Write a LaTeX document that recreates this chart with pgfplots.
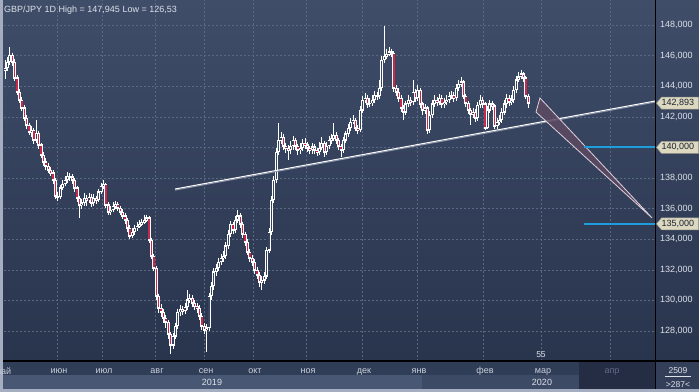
\documentclass[border=0pt]{standalone}
\usepackage{fontspec}
\setmainfont{Liberation Sans}
\usepackage{pgfplots}
\pgfplotsset{compat=1.18}
\usepackage{pgfplotstable}
\definecolor{bgtop}{HTML}{3F4D69}
\definecolor{bgbot}{HTML}{29344D}
\definecolor{framec}{HTML}{A4AEC0}
\definecolor{gridc}{HTML}{5A6883}
\definecolor{monthrow}{HTML}{303D57}
\definecolor{yearA}{HTML}{485773}
\definecolor{yearB}{HTML}{3D4A65}
\definecolor{aprbox}{HTML}{242D43}
\definecolor{rbox}{HTML}{333F59}
\definecolor{tickc}{HTML}{DDE2EA}
\definecolor{monthc}{HTML}{C9D0DC}
\definecolor{aprc}{HTML}{5F6B84}
\definecolor{candred}{HTML}{C8284A}
\definecolor{hollowc}{HTML}{37445F}
\definecolor{trifill}{HTML}{5D4A62}
\definecolor{triedge}{HTML}{E0D0DC}
\definecolor{lvlblue}{HTML}{1D9DDC}
\definecolor{tagfill}{HTML}{DCD9C0}
\definecolor{tagedge}{HTML}{9A9A8A}
\definecolor{tagtext}{HTML}{1C2230}
\definecolor{shadowc}{HTML}{8C97AC}

\pgfplotstableread{
i o h l c
0 145.05 145.70 144.50 145.19
1 145.19 145.90 145.00 145.58
2 145.58 146.56 145.40 146.04
3 146.04 146.20 145.30 145.58
4 145.58 145.75 144.35 144.54
5 144.54 144.70 143.40 143.62
6 143.62 143.80 142.90 143.10
7 143.10 143.30 142.40 142.58
8 142.58 142.75 141.70 141.92
9 141.92 142.10 141.20 141.46
10 141.46 141.60 140.80 141.01
11 141.01 141.40 140.70 141.14
12 141.14 141.30 140.20 140.48
13 140.48 141.79 140.30 140.94
14 140.94 141.10 139.90 140.16
15 140.16 140.30 139.30 139.50
16 139.50 139.70 138.80 139.05
17 139.05 139.30 138.55 138.78
18 138.78 139.00 138.30 138.52
19 138.52 138.75 138.10 138.33
20 138.33 138.50 137.60 137.87
21 137.87 138.00 136.60 136.82
22 136.82 137.10 136.50 136.76
23 136.76 137.55 136.60 137.35
24 137.35 137.85 137.20 137.61
25 137.61 138.10 137.45 137.87
26 137.87 138.40 137.70 138.13
27 138.13 138.35 137.80 138.07
28 138.07 138.25 137.60 137.87
29 137.87 138.00 137.10 137.35
30 137.35 137.50 136.45 136.69
31 136.69 136.85 135.40 136.24
32 136.24 136.60 136.00 136.37
33 136.37 137.00 136.15 136.69
34 136.69 136.90 136.20 136.56
35 136.56 137.05 136.35 136.76
36 136.76 136.95 136.10 136.37
37 136.37 136.95 136.20 136.69
38 136.69 136.85 136.30 136.56
39 136.56 137.30 136.40 137.09
40 137.09 137.70 136.95 137.48
41 137.48 137.87 137.30 137.61
42 137.61 137.70 136.05 136.24
43 136.24 136.40 135.55 135.78
44 135.78 136.15 135.60 135.91
45 135.91 136.40 135.75 136.17
46 136.17 136.50 136.00 136.30
47 136.30 136.45 135.85 136.04
48 136.04 136.20 135.55 135.78
49 135.78 135.95 135.30 135.52
50 135.52 135.70 135.00 135.25
51 135.25 135.40 134.50 134.73
52 134.73 134.90 134.00 134.21
53 134.21 134.70 134.05 134.47
54 134.47 134.95 134.30 134.73
55 134.73 135.10 134.55 134.86
56 134.86 135.25 134.70 134.99
57 134.99 135.35 134.85 135.12
58 135.12 135.55 135.00 135.25
59 135.25 135.60 135.10 135.39
60 135.39 135.50 133.75 133.95
61 133.95 134.10 132.70 132.90
62 132.90 133.05 131.90 132.12
63 132.12 132.25 130.05 130.29
64 130.29 130.45 129.20 129.50
65 129.50 129.75 128.90 129.24
66 129.24 129.45 128.50 128.85
67 128.85 129.05 128.20 128.59
68 128.59 128.75 127.50 127.80
69 127.80 127.95 126.53 127.08
70 127.08 127.90 126.80 127.67
71 127.67 128.55 127.45 128.33
72 128.33 129.45 128.10 129.24
73 129.24 129.70 129.00 129.44
74 129.44 129.65 129.05 129.31
75 129.31 129.85 129.10 129.57
76 129.57 130.68 129.40 130.03
77 130.03 130.45 129.80 130.16
78 130.16 130.35 129.55 129.83
79 129.83 130.00 129.35 129.63
80 129.63 129.85 129.20 129.50
81 129.50 129.70 128.70 128.98
82 128.98 129.15 128.05 128.33
83 128.33 128.50 127.80 128.07
84 128.07 128.45 126.63 128.20
85 128.20 130.50 128.00 130.29
86 130.29 131.20 130.05 130.94
87 130.94 132.10 130.70 131.86
88 131.86 132.40 131.60 132.12
89 132.12 132.80 131.90 132.51
90 132.51 133.05 132.30 132.77
91 132.77 133.20 132.50 132.90
92 132.90 133.80 132.70 133.56
93 133.56 134.60 133.35 134.34
94 134.34 135.20 134.15 134.99
95 134.99 135.15 134.35 134.60
96 134.60 135.50 134.40 135.25
97 135.25 135.91 135.05 135.52
98 135.52 135.70 134.75 134.99
99 134.99 135.15 134.10 134.34
100 134.34 134.50 133.55 133.82
101 133.82 134.00 132.95 133.16
102 133.16 133.35 132.50 132.77
103 132.77 132.95 132.25 132.51
104 132.51 132.70 131.70 131.99
105 131.99 132.20 131.40 131.66
106 131.66 131.85 130.90 131.20
107 131.20 131.60 130.68 131.33
108 131.33 131.85 131.05 131.59
109 131.59 133.50 131.40 133.29
110 133.29 134.70 133.10 134.47
111 134.47 136.80 134.30 136.56
112 136.56 138.10 136.35 137.87
113 137.87 139.95 137.65 139.70
114 139.70 141.59 139.50 140.48
115 140.48 141.00 140.20 140.68
116 140.68 140.85 139.80 140.09
117 140.09 140.30 139.65 139.96
118 139.96 140.15 139.15 139.83
119 139.83 140.40 139.55 140.09
120 140.09 140.75 139.85 140.48
121 140.48 140.60 139.80 140.09
122 140.09 140.25 139.50 139.83
123 139.83 140.30 139.60 139.96
124 139.96 140.55 139.75 140.29
125 140.29 140.60 139.90 140.16
126 140.16 140.35 139.70 139.96
127 139.96 140.10 139.55 139.83
128 139.83 140.30 139.60 140.03
129 140.03 140.20 139.55 139.83
130 139.83 139.95 139.45 139.70
131 139.70 140.35 139.50 139.96
132 139.96 140.65 139.80 140.29
133 140.29 140.45 139.40 139.70
134 139.70 140.35 139.50 140.09
135 140.09 140.75 139.90 140.48
136 140.48 140.90 140.25 140.61
137 140.61 141.59 140.40 140.81
138 140.81 141.00 140.20 140.48
139 140.48 140.60 139.80 140.09
140 140.09 140.25 139.37 139.83
141 139.83 140.70 139.65 140.48
142 140.48 141.10 140.30 140.88
143 140.88 141.50 140.70 141.27
144 141.27 141.90 141.10 141.66
145 141.66 142.10 141.50 141.79
146 141.79 141.95 141.05 141.27
147 141.27 141.45 140.90 141.14
148 141.14 142.70 141.00 142.44
149 142.44 143.35 142.25 143.10
150 143.10 143.55 142.90 143.23
151 143.23 143.40 142.60 142.84
152 142.84 143.20 142.65 142.90
153 142.90 143.40 142.70 143.10
154 143.10 143.70 142.90 143.42
155 143.42 143.65 143.10 143.36
156 143.36 144.41 143.15 143.88
157 143.88 145.95 143.70 145.71
158 145.71 147.945 145.50 145.97
159 145.97 146.45 145.80 146.10
160 146.10 146.55 145.95 146.24
161 146.24 146.45 145.90 146.17
162 146.17 146.30 143.65 143.88
163 143.88 144.10 143.35 143.62
164 143.62 143.85 142.95 143.23
165 143.23 143.40 142.30 142.58
166 142.58 142.75 141.79 142.31
167 142.31 143.05 142.10 142.84
168 142.84 143.40 142.65 143.10
169 143.10 143.30 142.70 142.97
170 142.97 144.41 142.80 143.62
171 143.62 143.80 142.95 143.23
172 143.23 144.05 143.00 143.75
173 143.75 143.90 142.60 142.84
174 142.84 143.00 142.15 142.44
175 142.44 142.85 142.20 142.58
176 142.58 142.70 140.88 141.14
177 141.14 142.35 140.95 142.12
178 142.12 143.10 141.95 142.84
179 142.84 143.40 142.65 143.10
180 143.10 143.30 142.70 142.97
181 142.97 143.50 142.75 143.23
182 143.23 143.40 142.60 142.84
183 142.84 143.25 142.60 142.97
184 142.97 143.40 142.75 143.10
185 143.10 143.65 142.90 143.36
186 143.36 143.70 143.15 143.42
187 143.42 143.60 142.95 143.23
188 143.23 144.15 143.05 143.88
189 143.88 144.40 143.70 144.14
190 144.14 144.61 143.95 144.28
191 144.28 144.40 143.15 143.36
192 143.36 143.50 142.65 142.90
193 142.90 143.05 142.20 142.44
194 142.44 142.60 141.46 142.18
195 142.18 142.60 141.90 142.31
196 142.31 142.50 141.65 141.92
197 141.92 143.00 141.75 142.77
198 142.77 143.45 142.55 143.10
199 143.10 143.30 142.60 142.84
200 142.84 142.95 141.14 141.27
201 141.27 142.70 141.20 142.44
202 142.44 143.10 142.25 142.84
203 142.84 143.05 142.45 142.71
204 142.71 142.85 141.20 141.40
205 141.40 141.95 141.20 141.66
206 141.66 142.10 141.45 141.79
207 141.79 142.55 141.60 142.31
208 142.31 143.10 142.15 142.84
209 142.84 143.50 142.60 143.23
210 143.23 143.40 142.70 142.97
211 142.97 143.40 142.75 143.10
212 143.10 144.00 142.90 143.75
213 143.75 144.65 143.55 144.41
214 144.41 144.90 144.30 144.61
215 144.61 145.06 144.45 144.80
216 144.80 144.95 144.25 144.54
217 144.54 144.65 143.15 143.36
218 143.36 143.50 142.60 142.89
}\gbpjpy

\begin{document}
\begin{tikzpicture}
\useasboundingbox (0bp,0bp) rectangle (699bp,392bp);
\begin{scope}[x=1bp,y=1bp]
\fill[framec] (0,0) rectangle (699,392);
\shade[top color=bgtop, bottom color=bgbot] (3,31) rectangle (699,392);
\fill[monthrow] (3,17) rectangle (579,31);
\fill[yearA] (3,3) rectangle (422,17);
\fill[yearB] (422,3) rectangle (579,17);
\fill[aprbox] (579,3) rectangle (655,31);
\fill[rbox] (656,3) rectangle (699,31);
\end{scope}

\begin{axis}[
  at={(4bp,31bp)}, anchor=south west,
  scale only axis, width=651bp, height=361bp,
  xmin=-0.417, xmax=270.83, ymin=126.04, ymax=149.634,
  clip mode=individual,
  axis line style={draw=none},
  tick style={draw=none}, major tick length=0pt,
  grid=major,
  major grid style={draw=gridc, dash pattern=on 2bp off 2bp, line width=0.6bp},
  xtick={21.67,40.42,62.5,82.92,103.33,125.42,148.75,171.67,199.17,223.33,252.08},
  xticklabels={июн,июл,авг,сен,окт,ноя,дек,янв,фев,мар,{\textcolor{aprc}{апр}}},
  xticklabel style={font=\fontsize{9bp}{10bp}\selectfont, text=monthc, anchor=base, inner sep=0pt, yshift=-13bp, xshift=2bp},
  ytick={128,130,132,134,136,138,142,144,146,148},
  extra y ticks={140}, extra y tick labels={},
  extra y tick style={grid=major, major grid style={draw=gridc, dash pattern=on 2bp off 2bp, line width=0.6bp}},
  yticklabel pos=right,
  yticklabel style={font=\fontsize{9bp}{10bp}\selectfont, text=tickc, anchor=west, inner sep=0pt, xshift=5bp},
  /pgf/number format/.cd, fixed, fixed zerofill, precision=3, use comma, 1000 sep={}, assume math mode=true,
]
% wicks
\addplot[draw=none, forget plot, error bars/.cd, y dir=both, y explicit, error mark=none,
  error bar style={draw=white, line width=1bp}]
  table[x=i, y=h, y error plus expr=0, y error minus expr={\thisrow{h}-\thisrow{l}}] {\gbpjpy};
% bodies (outline)
\addplot[draw=none, forget plot, error bars/.cd, y dir=both, y explicit, error mark=none,
  error bar style={draw=white, line width=3bp, line cap=butt}]
  table[x=i, y=c, y error plus expr={max(\thisrow{o},\thisrow{c})-\thisrow{c}+0.03}, y error minus expr={\thisrow{c}-min(\thisrow{o},\thisrow{c})+0.03}] {\gbpjpy};
% bearish fill
\addplot[draw=none, forget plot, error bars/.cd, y dir=both, y explicit, error mark=none,
  error bar style={draw=candred, line width=1.4bp, line cap=butt}]
  table[x=i, y expr={(\thisrow{o}+\thisrow{c})/2}, y error expr={ifthenelse(\thisrow{o}>\thisrow{c}, max(abs(\thisrow{o}-\thisrow{c})/2-0.05,0), 0)}] {\gbpjpy};
% bullish hollow
\addplot[draw=none, forget plot, error bars/.cd, y dir=both, y explicit, error mark=none,
  error bar style={draw=hollowc, line width=1.1bp, line cap=butt}]
  table[x=i, y expr={(\thisrow{o}+\thisrow{c})/2}, y error expr={ifthenelse(\thisrow{o}<\thisrow{c}, max(abs(\thisrow{o}-\thisrow{c})/2-0.06,0), 0)}] {\gbpjpy};
% trend line
\addplot[shadowc, line width=1bp] coordinates {(70.83,137.21) (270.83,142.96)};
\addplot[white, line width=1bp] coordinates {(70.83,137.28) (270.83,143.03)};
% triangle
\addplot[fill=trifill, fill opacity=0.85, draw=triedge, line width=0.8bp] coordinates {(222.9,143.23) (269.6,135.39) (221.25,142.31)} -- cycle;
% levels
\addplot[lvlblue, line width=2bp] coordinates {(241.25,140) (270.83,140)};
\addplot[lvlblue, line width=2bp] coordinates {(241.25,135) (270.83,135)};
% price tags
\draw[fill=tagfill, draw=tagedge, line width=0.5bp] ([xshift=1.5bp]axis cs:270.83,142.893) -- ++(5bp,6bp) -- ++(37bp,0bp) -- ++(0bp,-12bp) -- ++(-37bp,0bp) -- cycle;
\node[anchor=west, inner sep=0pt, font=\fontsize{9bp}{10bp}\selectfont, text=tagtext] at ([xshift=6.5bp]axis cs:270.83,142.893) {142,893};
\draw[fill=tagfill, draw=tagedge, line width=0.5bp] ([xshift=1.5bp]axis cs:270.83,140) -- ++(5bp,6bp) -- ++(37bp,0bp) -- ++(0bp,-12bp) -- ++(-37bp,0bp) -- cycle;
\node[anchor=west, inner sep=0pt, font=\fontsize{9bp}{10bp}\selectfont, text=tagtext] at ([xshift=6.5bp]axis cs:270.83,140) {140,000};
\draw[fill=tagfill, draw=tagedge, line width=0.5bp] ([xshift=1.5bp]axis cs:270.83,135) -- ++(5bp,6bp) -- ++(37bp,0bp) -- ++(0bp,-12bp) -- ++(-37bp,0bp) -- cycle;
\node[anchor=west, inner sep=0pt, font=\fontsize{9bp}{10bp}\selectfont, text=tagtext] at ([xshift=6.5bp]axis cs:270.83,135) {135,000};
\end{axis}

\begin{scope}[x=1bp,y=1bp]
\draw[black, line width=1.2] (3,31) -- (699,31);
\draw[black, line width=1] (655.5,3) -- (655.5,392);
\node[anchor=base west, inner sep=0pt, font=\fontsize{9bp}{10bp}\selectfont, text=tickc] at (4,380) {GBP/JPY 1D High = 147,945 Low = 126,53};
\node[anchor=base, inner sep=0pt, font=\fontsize{9bp}{10bp}\selectfont, text=monthc] at (3,18) {май};
\node[anchor=base, inner sep=0pt, font=\fontsize{9bp}{10bp}\selectfont, text=tickc] at (212,7) {2019};
\node[anchor=base, inner sep=0pt, font=\fontsize{9bp}{10bp}\selectfont, text=tickc] at (542,7) {2020};
\node[anchor=base, inner sep=0pt, font=\fontsize{8.5bp}{10bp}\selectfont, text=tickc] at (541,35) {55};
\node[anchor=base, inner sep=0pt, font=\fontsize{8.5bp}{10bp}\selectfont, text=tickc] at (678,19) {2509};
\draw[tickc, line width=0.6] (665,16) -- (691,16);
\node[anchor=base, inner sep=0pt, font=\fontsize{8.5bp}{10bp}\selectfont, text=tickc] at (678,5) {>287<};
\end{scope}
\end{tikzpicture}
\end{document}
